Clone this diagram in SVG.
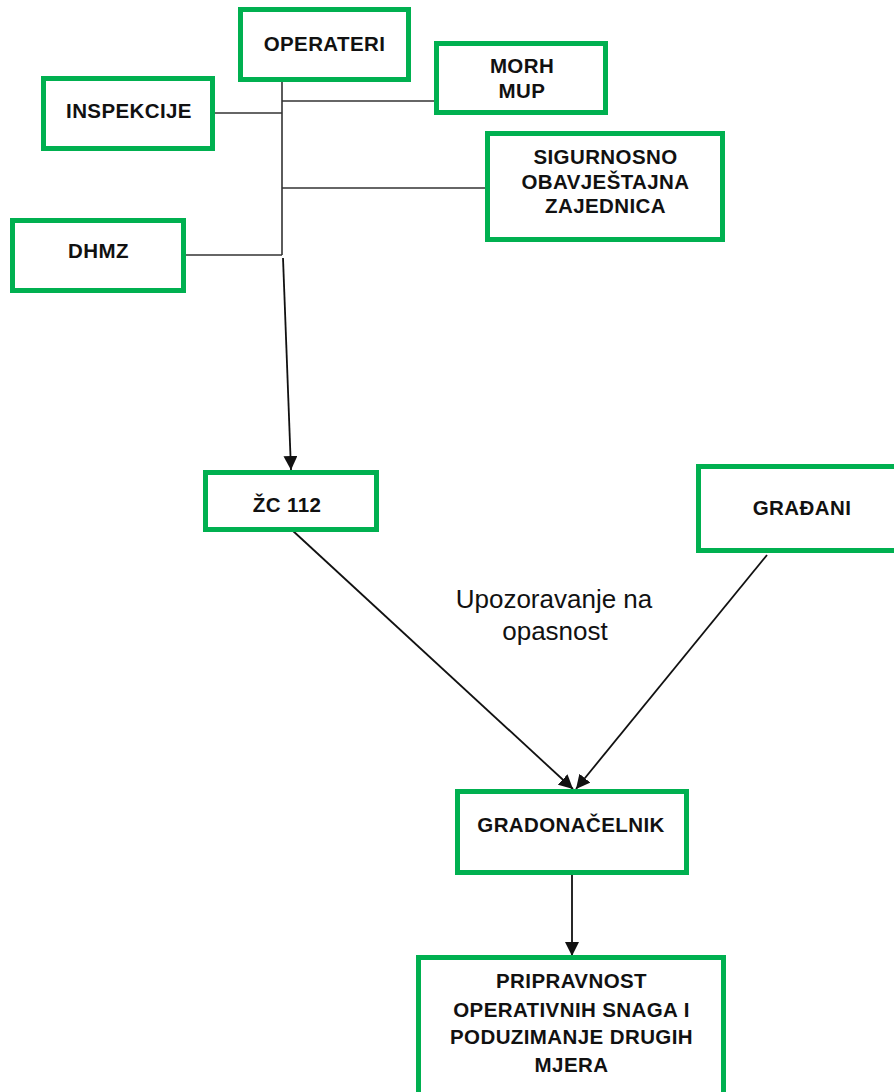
<svg xmlns="http://www.w3.org/2000/svg" width="894" height="1092" viewBox="0 0 894 1092">
<defs>
<style>
.box{fill:#fff;stroke:#00b050;stroke-width:5}
.t{font-family:"Liberation Sans",Arial,sans-serif;font-weight:bold;font-size:20.5px;letter-spacing:0.4px;fill:#111;text-anchor:middle}
.ln{stroke:#333;stroke-width:1.6;fill:none}
.ar{stroke:#111;stroke-width:1.8;fill:none;marker-end:url(#ah)}
.lbl{font-family:"Liberation Sans",Arial,sans-serif;font-size:26px;fill:#111;text-anchor:middle}
</style>
<marker id="ah" markerUnits="userSpaceOnUse" markerWidth="15" markerHeight="14" refX="14" refY="7" orient="auto">
<path d="M0,0 L14,7 L0,14 z" fill="#111"/>
</marker>
</defs>
<rect width="894" height="1092" fill="#fff"/>
<g id="connectors">
<line class="ln" x1="282" y1="80" x2="282" y2="255"/>
<line class="ln" x1="282" y1="101" x2="437" y2="101"/>
<line class="ln" x1="213" y1="113" x2="282" y2="113"/>
<line class="ln" x1="282" y1="188" x2="488" y2="188"/>
<line class="ln" x1="184" y1="255" x2="282" y2="255"/>
<line class="ar" x1="283" y1="258" x2="291" y2="470"/>
<line class="ar" x1="292" y1="530" x2="573" y2="789"/>
<line class="ar" x1="767" y1="555" x2="576" y2="789"/>
<line class="ar" x1="572" y1="875" x2="572" y2="956"/>
</g>
<g id="operateri"><rect class="box" x="240.5" y="9.5" width="168" height="70"/><text class="t" x="324.5" y="50.5">OPERATERI</text></g>
<g id="inspekcije"><rect class="box" x="43.5" y="78.5" width="169" height="70"/><text class="t" x="129" y="118">INSPEKCIJE</text></g>
<g id="dhmz"><rect class="box" x="12.5" y="220.5" width="171" height="70"/><text class="t" x="98.5" y="258">DHMZ</text></g>
<g id="morh"><rect class="box" x="436.5" y="43.5" width="169" height="69"/><text class="t" x="522" y="72.5">MORH</text><text class="t" x="522" y="97.5">MUP</text></g>
<g id="soa"><rect class="box" x="487.5" y="133.5" width="235" height="106"/><text class="t" x="605.5" y="164">SIGURNOSNO</text><text class="t" x="605.5" y="188.5">OBAVJEŠTAJNA</text><text class="t" x="605.5" y="213">ZAJEDNICA</text></g>
<g id="zc112"><rect class="box" x="205.5" y="472.5" width="171" height="57"/><text class="t" x="287" y="512">ŽC 112</text></g>
<g id="gradani"><rect class="box" x="698.5" y="466.5" width="210" height="84"/><text class="t" x="802" y="515">GRAĐANI</text></g>
<g id="label"><text class="lbl" x="554" y="608">Upozoravanje na</text><text class="lbl" x="555" y="640">opasnost</text></g>
<g id="gradonacelnik"><rect class="box" x="457.5" y="791.5" width="229" height="81"/><text class="t" x="571" y="832">GRADONAČELNIK</text></g>
<g id="pripravnost"><rect class="box" x="418.5" y="957.5" width="305" height="160"/><text class="t" x="571.5" y="988">PRIPRAVNOST</text><text class="t" x="571.5" y="1016.5">OPERATIVNIH SNAGA I</text><text class="t" x="571.5" y="1043.5">PODUZIMANJE DRUGIH</text><text class="t" x="571.5" y="1071.5">MJERA</text></g>
</svg>
